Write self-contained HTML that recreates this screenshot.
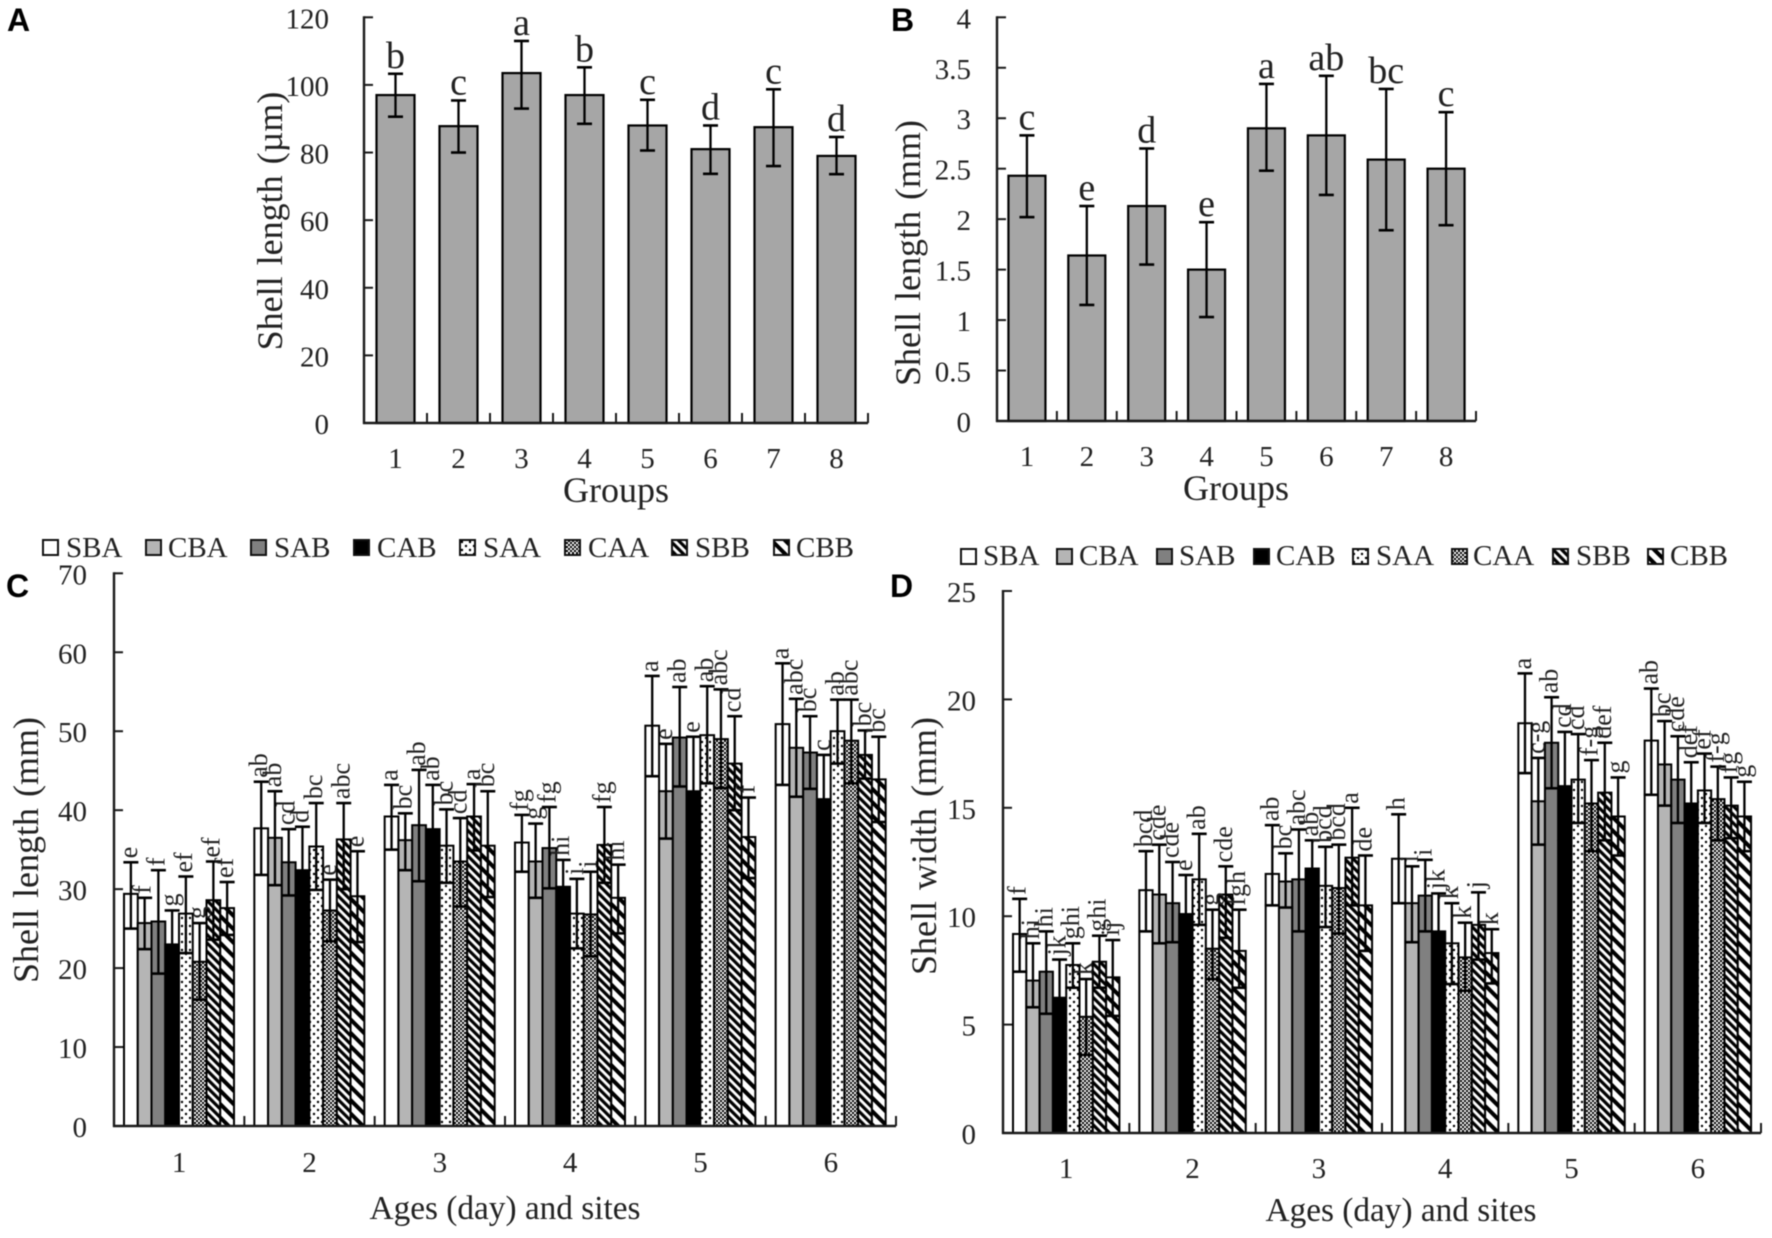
<!DOCTYPE html>
<html lang="en">
<head>
<meta charset="utf-8">
<title>Shell length and width by group and age</title>
<style>
html,body{margin:0;padding:0;background:#fff;}
svg{display:block;filter:blur(.4px);}
text{font-family:"Liberation Serif",serif;fill:#222;}
.panel-letter{font-family:"Liberation Sans",sans-serif;font-weight:700;font-size:32px;fill:#000;}
.title{font-size:36px;word-spacing:2px;}
.title-small{font-size:33.3px;}
.legend-text{font-size:29px;}
.sw{stroke:#111;stroke-width:2;}
</style>
</head>
<body>
<svg id="figure" xmlns="http://www.w3.org/2000/svg" width="1772" height="1238" viewBox="0 0 1772 1238">
<defs>
<pattern id="p-dots" patternUnits="userSpaceOnUse" width="8" height="8"><rect width="8" height="8" fill="#fff"/><circle cx="2" cy="2" r="1.2" fill="#000"/><circle cx="6" cy="6" r="1.2" fill="#000"/></pattern>
<pattern id="p-check" patternUnits="userSpaceOnUse" width="4" height="4"><rect width="4" height="4" fill="#fff"/><rect width="2" height="2" fill="#000"/><rect x="2" y="2" width="2" height="2" fill="#000"/></pattern>
<pattern id="p-fine" patternUnits="userSpaceOnUse" width="6" height="6" patternTransform="rotate(-45)"><rect width="6" height="6" fill="#fff"/><rect width="3.2" height="6" fill="#000"/></pattern>
<pattern id="p-wide" patternUnits="userSpaceOnUse" width="9.5" height="9.5" patternTransform="rotate(-45)"><rect width="9.5" height="9.5" fill="#fff"/><rect width="4" height="9.5" fill="#000"/></pattern>
</defs>
<rect width="1772" height="1238" fill="#fff"/>

<text class="panel-letter" x="7" y="31">A</text>
<text class="panel-letter" x="891" y="31">B</text>
<text class="panel-letter" x="6" y="597">C</text>
<text class="panel-letter" x="890" y="597">D</text>

<text class="title" transform="translate(282 221) rotate(-90)" text-anchor="middle">Shell length (µm)</text>
<text class="title" x="616" y="502" text-anchor="middle">Groups</text>
<text class="title" transform="translate(920 253) rotate(-90)" text-anchor="middle">Shell length (mm)</text>
<text class="title" x="1236" y="500" text-anchor="middle">Groups</text>
<text class="title" transform="translate(38 850) rotate(-90)" text-anchor="middle">Shell length (mm)</text>
<text class="title-small" x="505" y="1219" text-anchor="middle">Ages (day) and sites</text>
<text class="title" transform="translate(936 846) rotate(-90)" text-anchor="middle">Shell width (mm)</text>
<text class="title-small" x="1401" y="1221" text-anchor="middle">Ages (day) and sites</text>

<g>
<rect class="sw" x="43" y="540" width="15" height="15" fill="#fff"/><text class="legend-text" x="66" y="557">SBA</text>
<rect class="sw" x="146" y="540" width="15" height="15" fill="#b5b5b5"/><text class="legend-text" x="168" y="557">CBA</text>
<rect class="sw" x="251" y="540" width="15" height="15" fill="#808080"/><text class="legend-text" x="274" y="557">SAB</text>
<rect class="sw" x="354" y="540" width="15" height="15" fill="#000"/><text class="legend-text" x="377" y="557">CAB</text>
<rect class="sw" x="460" y="540" width="15" height="15" fill="url(#p-dots)"/><text class="legend-text" x="483" y="557">SAA</text>
<rect class="sw" x="565" y="540" width="15" height="15" fill="url(#p-check)"/><text class="legend-text" x="588" y="557">CAA</text>
<rect class="sw" x="672" y="540" width="15" height="15" fill="url(#p-fine)"/><text class="legend-text" x="695" y="557">SBB</text>
<rect class="sw" x="774" y="540" width="15" height="15" fill="url(#p-wide)"/><text class="legend-text" x="796" y="557">CBB</text>
</g>
<g>
<rect class="sw" x="961" y="549" width="15" height="15" fill="#fff"/><text class="legend-text" x="983" y="565">SBA</text>
<rect class="sw" x="1057" y="549" width="15" height="15" fill="#b5b5b5"/><text class="legend-text" x="1079" y="565">CBA</text>
<rect class="sw" x="1157" y="549" width="15" height="15" fill="#808080"/><text class="legend-text" x="1179" y="565">SAB</text>
<rect class="sw" x="1254" y="549" width="15" height="15" fill="#000"/><text class="legend-text" x="1276" y="565">CAB</text>
<rect class="sw" x="1353" y="549" width="15" height="15" fill="url(#p-dots)"/><text class="legend-text" x="1376" y="565">SAA</text>
<rect class="sw" x="1452" y="549" width="15" height="15" fill="url(#p-check)"/><text class="legend-text" x="1473" y="565">CAA</text>
<rect class="sw" x="1553" y="549" width="15" height="15" fill="url(#p-fine)"/><text class="legend-text" x="1576" y="565">SBB</text>
<rect class="sw" x="1648" y="549" width="15" height="15" fill="url(#p-wide)"/><text class="legend-text" x="1670" y="565">CBB</text>
</g>
</svg>

<script>
// Panel A
const aCategories = ['1','2','3','4','5','6','7','8'];
const aTicks = [0,20,40,60,80,100,120];
const aMeans = [97,87.8,103.5,97,88,81,87.5,79];
const aUpper = [103.3,95.4,113,105.2,95.6,88,98.7,84.6];
const aLower = [90.6,80,93,88.5,80.6,73.7,76,73.6];
const aLetters = ['b','c','a','b','c','d','c','d'];

// Panel B
const bCategories = ['1','2','3','4','5','6','7','8'];
const bTicks = [0,0.5,1,1.5,2,2.5,3,3.5,4];
const bMeans = [2.43,1.64,2.13,1.5,2.9,2.83,2.59,2.5];
const bUpper = [2.83,2.13,2.7,1.97,3.34,3.42,3.29,3.06];
const bLower = [2.02,1.15,1.55,1.03,2.48,2.24,1.89,1.94];
const bLetters = ['c','e','d','e','a','ab','bc','c'];

// Shared series for panels C and D (order within each day)
const seriesNames = ['SBA','CBA','SAB','CAB','SAA','CAA','SBB','CBB'];
const seriesFills = ['#ffffff','#b5b5b5','#808080','#000000','url(#p-dots)','url(#p-check)','url(#p-fine)','url(#p-wide)'];
const dayLabels = ['1','2','3','4','5','6'];

// Panel C: one row per day
const cTicks = [0,10,20,30,40,50,60,70];
const cMeans = [
  [29.4,25.7,25.9,23,26.9,20.8,28.6,27.6],
  [37.7,36.5,33.4,32.4,35.4,27.3,36.3,29.1],
  [39.2,36.2,38.1,37.6,35.5,33.5,39.2,35.5],
  [35.9,33.5,35.2,30.3,26.9,26.8,35.6,28.9],
  [50.7,42.4,49.2,42.4,49.5,49,45.9,36.6],
  [50.9,47.9,47.3,41.4,50,48.8,47,43.9]
];
const cUpper = [
  [33.4,28.9,32.4,27.3,31.6,25.7,33.5,30.9],
  [43.6,42.4,37.6,37.9,40.9,31.2,40.9,34.8],
  [43.2,39.6,45.1,43.2,40.1,39,43.3,42.4],
  [39.4,38.3,40.4,33.7,31.3,32.2,40.4,33.1],
  [57,48.4,55.6,49.3,55.7,55.3,51.9,41.6],
  [58.6,54.1,51.9,47,54,54,50.1,49.3]
];
const cLower = [
  [25,22.4,19.3,18.7,21.9,16,23.6,24.2],
  [31.8,30.5,29.2,27,29.9,23.4,30,23.3],
  [35,32.4,31,32,30.8,27.8,34.9,29],
  [32.2,28.9,30.1,27,22.5,21.5,30.8,24.4],
  [44.3,36.4,43,36,43.4,42.8,40,31.4],
  [43.2,41.7,42.7,36,45.9,43.4,44,38.5]
];
const cLetters = [
  ['e','f','f','g','ef','g','ef','ef'],
  ['ab','ab','cd','d','bc','e','abc','e'],
  ['a','bc','ab','ab','bc','cd','a','bc'],
  ['fg','g','fg','hi','i','i','fg','hi'],
  ['a','e','ab','e','ab','abc','cd','f'],
  ['a','abc','bc','c','ab','abc','bc','bc']
];

// Panel D: one row per day
const dTicks = [0,5,10,15,20,25];
const dMeans = [
  [9.18,7.03,7.44,6.24,7.75,5.36,7.9,7.18],
  [11.2,11,10.6,10.1,11.7,8.5,11,8.4],
  [11.95,11.6,11.7,12.2,11.4,11.3,12.7,10.5],
  [12.65,10.6,10.95,9.3,8.75,8.1,9.6,8.3],
  [18.9,15.3,18,16,16.3,15.2,15.7,14.6],
  [18.1,17,16.3,15.2,15.8,15.4,15.1,14.6]
];
const dUpper = [
  [10.8,8.75,9.3,8,8.75,7.1,9.1,8.9],
  [13,13.3,12.5,11.9,13.8,10.3,12.3,10.3],
  [14.2,12.9,14,13.5,13.2,13.3,15,12.8],
  [14.7,12.3,12.6,11.05,10.6,9.7,11.1,9.4],
  [21.2,17.3,20.1,18.5,18.4,17.2,18,16.4],
  [20.5,19,18.3,17.1,17.5,16.9,16.4,16.2]
];
const dLower = [
  [7.44,5.8,5.5,4.5,6.7,3.6,6.7,5.4],
  [9.3,8.75,8.8,8.2,9.6,7.1,9,6.7],
  [10.5,10.4,9.3,10.8,9.5,9.2,10.5,8.4],
  [10.6,8.8,9.3,7.5,6.87,6.56,8,6.9],
  [16.6,13.3,15.9,13.5,14.3,13,13.5,12.8],
  [15.6,15.1,14.3,13.3,14.3,13.5,13.6,13]
];
const dLetters = [
  ['f','hi','hi','jk','ghi','k','ghi','ij'],
  ['bcd','cde','cde','e','ab','g','cde','fgh'],
  ['ab','bc','abc','ab','bcd','bcd','a','de'],
  ['h','i','i','jk','k','k','j','k'],
  ['a','c-g','ab','cd','cd','f-g','def','g'],
  ['ab','bc','cde','def','ef','f-g','fg','g']
];

const svg = document.getElementById('figure');
const NS = 'http://www.w3.org/2000/svg';
function mk(parent, tag, attrs, txt) {
  const el = document.createElementNS(NS, tag);
  for (const k in attrs) el.setAttribute(k, attrs[k]);
  if (txt !== undefined) el.textContent = txt;
  parent.appendChild(el);
  return el;
}

function drawAxes(panel, g, frame, yScale, ticks, catCount, catLabels, labelBaseline) {
  const ax = mk(g, 'line', {x1: frame.left, x2: frame.left, y1: frame.top - 1, y2: frame.bottom + 1, stroke: '#1a1a1a', 'stroke-width': 2.4});
  
  
  const bx = mk(g, 'line', {x1: frame.left - 1, x2: frame.right, y1: frame.bottom, y2: frame.bottom, stroke: '#1a1a1a', 'stroke-width': 2.4});
  
  
  ticks.forEach(function (t) {
    const y = yScale(t);
    if (t !== 0) {
      const tk = mk(g, 'line', {x1: frame.left, x2: frame.left + 9, y1: y, y2: y, stroke: '#1a1a1a', 'stroke-width': 2});
      
      
    }
    const lb = mk(g, 'text', {x: frame.tickRight, y: y + 11, 'text-anchor': 'end', 'font-size': frame.tickSize}, String(t));
    
    
  });
  const step = (frame.right - frame.left) / catCount;
  for (let i = 0; i < catCount; i++) {
    const x = frame.left + step * (i + 1);
    const tk = mk(g, 'line', {x1: x, x2: x, y1: frame.bottom, y2: frame.bottom - 10, stroke: '#1a1a1a', 'stroke-width': 2});
    
    
    const lb = mk(g, 'text', {x: frame.left + step * (i + 0.5), y: labelBaseline, 'text-anchor': 'middle', 'font-size': frame.tickSize}, catLabels[i]);
    
    
  }
}

function drawError(g, panel, x, capW, yHi, yLo) {
  const v = mk(g, 'line', {x1: x, x2: x, y1: yHi, y2: yLo, stroke: '#000', 'stroke-width': 2.3});
  
  
  const c1 = mk(g, 'line', {x1: x - capW / 2, x2: x + capW / 2, y1: yHi, y2: yHi, stroke: '#000', 'stroke-width': 2.6});
  
  
  const c2 = mk(g, 'line', {x1: x - capW / 2, x2: x + capW / 2, y1: yLo, y2: yLo, stroke: '#000', 'stroke-width': 2.6});
  
  
}

function simplePanel(panel, frame, yMax, cats, ticks, means, upper, lower, letters, labelBaseline) {
  const g = mk(svg, 'g', {});
  
  
  const yScale = function (v) { return frame.bottom - (v / yMax) * (frame.bottom - frame.top); };
  const step = (frame.right - frame.left) / cats.length;
  means.forEach(function (m, i) {
    const cx = frame.left + step * (i + 0.5);
    const r = mk(g, 'rect', {x: cx - frame.barW / 2, y: yScale(m), width: frame.barW, height: frame.bottom - yScale(m), fill: '#a6a6a6', stroke: '#000', 'stroke-width': 2.2});
    
    
  });
  drawAxes(panel, g, frame, yScale, ticks, cats.length, cats, labelBaseline);
  means.forEach(function (m, i) {
    const cx = frame.left + step * (i + 0.5);
    drawError(g, panel, cx, 15, yScale(upper[i]), yScale(lower[i]));
    const t = mk(g, 'text', {x: cx, y: yScale(upper[i]) - 6, 'text-anchor': 'middle', 'font-size': 38}, letters[i]);
    
    
  });
}

function groupedPanel(panel, frame, yMax, ticks, means, upper, lower, letters) {
  const g = mk(svg, 'g', {});
  
  
  const yScale = function (v) { return frame.bottom - (v / yMax) * (frame.bottom - frame.top); };
  const step = (frame.right - frame.left) / dayLabels.length;
  const barX = function (d, s) { return frame.left + step * d + 10 + frame.barW * s; };
  means.forEach(function (row, d) {
    row.forEach(function (m, s) {
      const r = mk(g, 'rect', {x: barX(d, s), y: yScale(m), width: frame.barW, height: frame.bottom - yScale(m), fill: seriesFills[s], stroke: '#000', 'stroke-width': 2});
      
      
    });
  });
  drawAxes(panel, g, frame, yScale, ticks, dayLabels.length, dayLabels, frame.labelBaseline);
  means.forEach(function (row, d) {
    row.forEach(function (m, s) {
      const cx = barX(d, s) + frame.barW / 2;
      drawError(g, panel, cx, 15, yScale(upper[d][s]), yScale(lower[d][s]));
      const t = mk(g, 'text', {transform: 'translate(' + (cx + 6) + ' ' + (yScale(upper[d][s]) - 4) + ') rotate(-90)', 'font-size': 26}, letters[d][s]);
      
      
    });
  });
}

simplePanel('panel-a', {left: 364, right: 868, top: 17.3, bottom: 423, barW: 38, tickRight: 329, tickSize: 29}, 120, aCategories, aTicks, aMeans, aUpper, aLower, aLetters, 468);
simplePanel('panel-b', {left: 997, right: 1476, top: 17.3, bottom: 421, barW: 37, tickRight: 971, tickSize: 29}, 4, bCategories, bTicks, bMeans, bUpper, bLower, bLetters, 466);
groupedPanel('panel-c', {left: 114, right: 896, top: 573.3, bottom: 1126, barW: 13.75, tickRight: 87, tickSize: 29, labelBaseline: 1172}, 70, cTicks, cMeans, cUpper, cLower, cLetters);
groupedPanel('panel-d', {left: 1003, right: 1761, top: 591, bottom: 1133, barW: 13.3, tickRight: 976, tickSize: 29, labelBaseline: 1178}, 25, dTicks, dMeans, dUpper, dLower, dLetters);
</script>
</body>
</html>
